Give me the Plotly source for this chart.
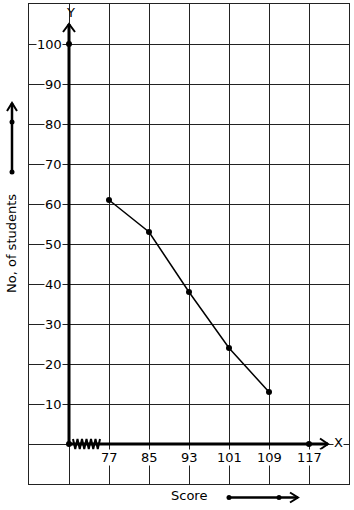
import plotly.graph_objects as go

# ---- data ----
scores = [77, 85, 93, 101, 109]
students = [61, 53, 38, 24, 13]
x_tick_vals = [77, 85, 93, 101, 109, 117]
x_tick_text = ["77", "85", "93", "101", "109", "117"]
y_tick_vals = [10, 20, 30, 40, 50, 60, 70, 80, 90, 100]
y_tick_text = ["10", "20", "30", "40", "50", "60", "70", "80", "90", "100"]

W, H = 354, 510
ML, MR, MT, MB = 29, 5, 4, 26
XR = [61, 125]
YR = [-10, 110]
PW, PH = W - ML - MR, H - MT - MB
ORIGIN_X = 69

def dx(px):  # pixel offset -> data x units
    return px * (XR[1] - XR[0]) / PW

def dy(py):
    return py * (YR[1] - YR[0]) / PH

def paper_x(px):
    return (px - ML) / PW

def paper_y(py):
    return (H - MB - py) / PH

FONT = "DejaVu Sans"
fig = go.Figure()

# data line
fig.add_trace(go.Scatter(x=scores, y=students, mode="lines+markers",
                         line=dict(color="black", width=1.5),
                         marker=dict(color="black", size=6),
                         hoverinfo="skip", showlegend=False, cliponaxis=False))
# axis dots
fig.add_trace(go.Scatter(x=[ORIGIN_X, ORIGIN_X, x_tick_vals[-1]], y=[0, 100, 0], mode="markers",
                         marker=dict(color="black", size=6), showlegend=False,
                         hoverinfo="skip", cliponaxis=False))

shapes = []
# Y axis (thick) with arrow
ytip = 105
shapes.append(dict(type="line", xref="x", yref="y", x0=ORIGIN_X, x1=ORIGIN_X, y0=0, y1=ytip,
                   line=dict(color="black", width=3)))
shapes.append(dict(type="path", xref="x", yref="y",
                   path=f"M {ORIGIN_X-dx(6)} {ytip-dy(8)} L {ORIGIN_X} {ytip} L {ORIGIN_X+dx(6)} {ytip-dy(8)}",
                   line=dict(color="black", width=2)))
# X axis (thick) with arrow
xtip = 61 + (328 - ML) * (XR[1] - XR[0]) / PW
shapes.append(dict(type="line", xref="x", yref="y", x0=ORIGIN_X, x1=xtip, y0=0, y1=0,
                   line=dict(color="black", width=3)))
shapes.append(dict(type="path", xref="x", yref="y",
                   path=f"M {xtip-dx(8)} {dy(5.5)} L {xtip} 0 L {xtip-dx(8)} {-dy(5.5)}",
                   line=dict(color="black", width=2)))
# axis break zigzag
n = 12
zx0, zx1 = ORIGIN_X + dx(4), ORIGIN_X + dx(31)
pts = []
for i in range(n + 1):
    xx = zx0 + (zx1 - zx0) * i / n
    yy = dy(5) if i % 2 == 0 else -dy(5)
    pts.append(f"{'M' if i == 0 else 'L'} {xx} {yy}")
shapes.append(dict(type="path", xref="x", yref="y", path=" ".join(pts),
                   line=dict(color="black", width=2)))

# outside vertical arrow (left)
vx = paper_x(12)
shapes.append(dict(type="line", xref="paper", yref="paper", x0=vx, x1=vx,
                   y0=paper_y(172), y1=paper_y(103), line=dict(color="black", width=2.5)))
shapes.append(dict(type="path", xref="paper", yref="paper",
                   path=f"M {paper_x(7)} {paper_y(111)} L {vx} {paper_y(103)} L {paper_x(17)} {paper_y(111)}",
                   line=dict(color="black", width=2)))
for py in (122, 172):
    shapes.append(dict(type="circle", xref="paper", yref="paper",
                       x0=paper_x(9.5), x1=paper_x(14.5), y0=paper_y(py + 2.5), y1=paper_y(py - 2.5),
                       fillcolor="black", line=dict(color="black", width=0)))
# outside horizontal arrow (bottom)
hy = paper_y(497.5)
shapes.append(dict(type="line", xref="paper", yref="paper", x0=paper_x(229), x1=paper_x(298),
                   y0=hy, y1=hy, line=dict(color="black", width=2.5)))
shapes.append(dict(type="path", xref="paper", yref="paper",
                   path=f"M {paper_x(290)} {paper_y(492.5)} L {paper_x(298)} {hy} L {paper_x(290)} {paper_y(502.5)}",
                   line=dict(color="black", width=2)))
for px in (229, 279):
    shapes.append(dict(type="circle", xref="paper", yref="paper",
                       x0=paper_x(px - 2.5), x1=paper_x(px + 2.5), y0=paper_y(500), y1=paper_y(495),
                       fillcolor="black", line=dict(color="black", width=0)))

annotations = []
for v, t in zip(y_tick_vals, y_tick_text):
    annotations.append(dict(x=67.8, y=v, xref="x", yref="y", text=t, showarrow=False,
                            xanchor="right", yanchor="middle", bgcolor="white", borderpad=0,
                            font=dict(family=FONT, size=13, color="black")))
for v, t in zip(x_tick_vals, x_tick_text):
    annotations.append(dict(x=v, y=-3.25, xref="x", yref="y", text=t, showarrow=False,
                            xanchor="center", yanchor="middle", bgcolor="white", borderpad=0,
                            font=dict(family=FONT, size=13, color="black")))
annotations.append(dict(x=ORIGIN_X + dx(1.5), y=108, xref="x", yref="y", text="Y", showarrow=False,
                        xanchor="center", yanchor="middle",
                        font=dict(family=FONT, size=13, color="black")))
annotations.append(dict(x=61 + (338 - ML) / 5, y=0.3, xref="x", yref="y", text="X", showarrow=False,
                        xanchor="center", yanchor="middle",
                        bgcolor="white", borderpad=0, font=dict(family=FONT, size=13, color="black")))
annotations.append(dict(x=paper_x(189), y=paper_y(496), xref="paper", yref="paper", text="Score",
                        xanchor="center", yanchor="middle",
                        showarrow=False, font=dict(family=FONT, size=13, color="black")))
annotations.append(dict(x=paper_x(11), y=paper_y(244), xref="paper", yref="paper",
                        text="No, of students", textangle=-90, showarrow=False,
                        xanchor="center", yanchor="middle",
                        font=dict(family=FONT, size=13, color="black")))

fig.update_layout(
    width=W, height=H,
    margin=dict(l=ML, r=MR, t=MT, b=MB),
    paper_bgcolor="white", plot_bgcolor="white",
    shapes=shapes, annotations=annotations,
    xaxis=dict(range=XR, tick0=61, dtick=8, showgrid=True, gridcolor="#222", gridwidth=1.3,
               showticklabels=False, ticks="", zeroline=False, showline=True, mirror=True,
               linecolor="#222", linewidth=1.3, fixedrange=True),
    yaxis=dict(range=YR, tick0=0, dtick=10, showgrid=True, gridcolor="#222", gridwidth=1.3,
               showticklabels=False, ticks="", zeroline=False, showline=True, mirror=True,
               linecolor="#222", linewidth=1.3, fixedrange=True),
    showlegend=False,
)

fig.write_html("out.html", config={"displayModeBar": False})
